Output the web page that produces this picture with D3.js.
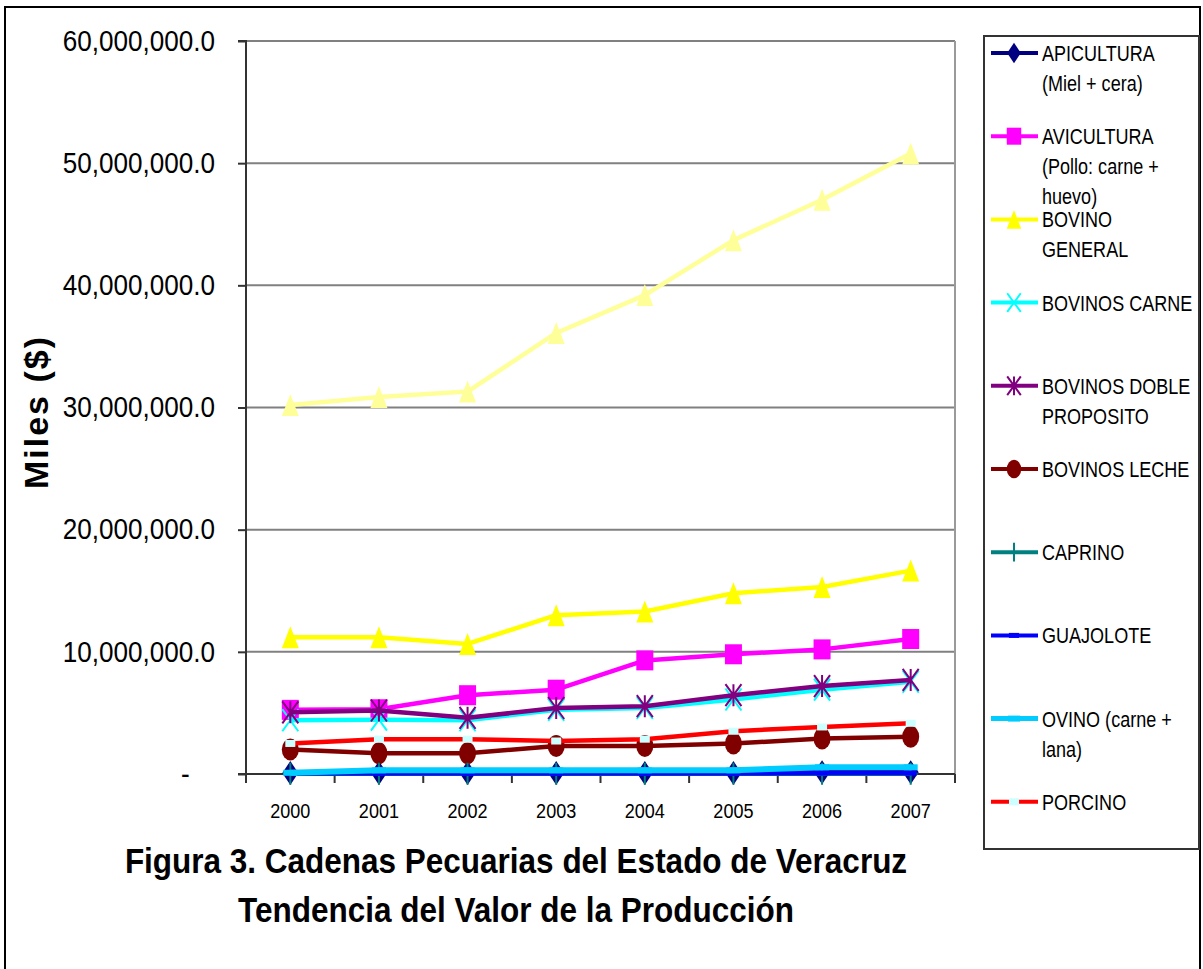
<!DOCTYPE html>
<html><head><meta charset="utf-8">
<script src="https://cdn.jsdelivr.net/npm/d3@7/dist/d3.min.js"></script>
<style>
body{margin:0;background:#fff;}
svg{display:block;}
text{font-family:"Liberation Sans",Arial,sans-serif;}
</style></head>
<body>
<svg id="chart" width="1203" height="969"></svg>
<script>
const years = ["2000","2001","2002","2003","2004","2005","2006","2007"];
const yTicks = [0,10000000,20000000,30000000,40000000,50000000,60000000];

const apicultura   = [80000, 80000, 80000, 80000, 80000, 80000, 150000, 150000];
const avicultura   = [5250000, 5300000, 6450000, 6900000, 9300000, 9800000, 10200000, 11050000];
const bovinoGeneral= [11200000, 11200000, 10650000, 13000000, 13300000, 14800000, 15300000, 16650000];
const bovinosCarne = [4400000, 4450000, 4400000, 5250000, 5400000, 6100000, 6900000, 7550000];
const bovinosDoble = [5050000, 5200000, 4600000, 5400000, 5550000, 6450000, 7200000, 7700000];
const bovinosLeche = [2000000, 1700000, 1700000, 2300000, 2300000, 2500000, 2900000, 3050000];
const caprino      = [30000, 30000, 30000, 30000, 30000, 30000, 30000, 30000];
const guajolote    = [60000, 60000, 60000, 60000, 60000, 60000, 80000, 80000];
const ovino        = [100000, 300000, 300000, 300000, 300000, 300000, 550000, 550000];
const porcino      = [2500000, 2850000, 2850000, 2700000, 2850000, 3500000, 3850000, 4150000];
const total        = [30200000, 30850000, 31300000, 36100000, 39200000, 43700000, 47000000, 50800000];

const seriesNames = ["APICULTURA\n(Miel + cera)","AVICULTURA\n(Pollo: carne +\nhuevo)","BOVINO\nGENERAL",
  "BOVINOS CARNE","BOVINOS DOBLE\nPROPOSITO","BOVINOS LECHE","CAPRINO","GUAJOLOTE","OVINO (carne +\nlana)","PORCINO","TOTAL"];
const seriesValues = [apicultura,avicultura,bovinoGeneral,bovinosCarne,bovinosDoble,bovinosLeche,caprino,guajolote,ovino,porcino,total];
const seriesColors = ["#000080","#FF00FF","#FFFF00","#00FFFF","#800080","#800000","#008080","#0000FF","#00CCFF","#FF0000","#FFFF99"];
const seriesMarkers = ["diamond","square","triangle","x","star","circle","plus","dash","bar","rect","triangle"];
const inLegend = [true,true,true,true,true,true,true,true,true,true,false];

const svg = d3.select("#chart");
const L=246, R=955, T=41, B=774;

// outer border
svg.append("rect").attr("x",5).attr("y",7).attr("width",1195).attr("height",975)
  .attr("fill","#fff").attr("stroke","#000").attr("stroke-width",2);

const x = d3.scaleBand().domain(years).range([L,R]);
const y = d3.scaleLinear().domain([0,60000000]).range([B,T]);

// gridlines
svg.append("g").selectAll("line").data(yTicks.filter(d=>d>0)).join("line")
  .attr("x1",L).attr("x2",R).attr("y1",d=>y(d)).attr("y2",d=>y(d))
  .attr("stroke","#808080").attr("stroke-width",2);
// right border of plot
svg.append("line").attr("x1",R).attr("x2",R).attr("y1",T).attr("y2",B)
  .attr("stroke","#9a9a9a").attr("stroke-width",2);

// y axis
const YS = 0.9;
const yAxis = d3.axisLeft(y).tickValues(yTicks).tickSize(8).tickPadding(23)
  .tickFormat(d=> d===0 ? "-" : d3.format(",.1f")(d));
const gy = svg.append("g").attr("transform",`translate(${L},0)`).call(yAxis);
gy.select(".domain").attr("stroke","#333").attr("stroke-width",2).attr("d",`M-8,${T}H0V${B+9}`);
gy.selectAll(".tick line").attr("stroke","#333").attr("stroke-width",2);
gy.selectAll(".tick text").attr("font-size",29).attr("fill","#000")
  .attr("x",-31/YS).attr("transform",`scale(${YS},1)`);
gy.selectAll(".tick text").filter(d=>d===0).attr("dx",-28);

// x axis
const xAxis = d3.axisBottom(x).tickSize(0).tickPadding(29);
const gx = svg.append("g").attr("transform",`translate(0,${B})`).call(xAxis);
gx.select(".domain").attr("stroke","#333").attr("stroke-width",2).attr("d",`M${L-8},0H${R}`);
gx.selectAll(".tick text").attr("font-size",21).attr("fill","#000").attr("transform","scale(0.86,1)");
// tick marks at band boundaries
svg.append("g").selectAll("line").data(years).join("line")
  .attr("x1",(d,i)=>L+x.step()*(i+1)).attr("x2",(d,i)=>L+x.step()*(i+1))
  .attr("y1",B).attr("y2",B+9).attr("stroke","#333").attr("stroke-width",2);

// marker drawing
function marker(g, type, color, w, h){
  const hw=w/2, hh=h/2;
  switch(type){
    case "diamond": g.append("path").attr("d",`M0,${-hh}L${hw},0L0,${hh}L${-hw},0Z`).attr("fill",color); break;
    case "square": g.append("rect").attr("x",-hw).attr("y",-hh).attr("width",w).attr("height",h).attr("fill",color); break;
    case "triangle": g.append("path").attr("d",`M0,${-hh}L${hw},${hh}L${-hw},${hh}Z`).attr("fill",color); break;
    case "circle": g.append("ellipse").attr("rx",hw).attr("ry",hh).attr("fill",color); break;
    case "x": g.append("path").attr("d",`M${-hw},${-hh}L${hw},${hh}M${hw},${-hh}L${-hw},${hh}`).attr("stroke",color).attr("stroke-width",2); break;
    case "star": g.append("path").attr("d",`M${-hw},${-hh}L${hw},${hh}M${hw},${-hh}L${-hw},${hh}M0,${-hh}L0,${hh}`).attr("stroke",color).attr("stroke-width",2); break;
    case "plus": g.append("path").attr("d",`M0,${-hh}L0,${hh}M${-hw},0L${hw},0`).attr("stroke",color).attr("stroke-width",2); break;
    case "dash": g.append("rect").attr("x",-hw).attr("y",-2.5).attr("width",w).attr("height",5).attr("fill",color); break;
    case "bar": g.append("rect").attr("x",-hw).attr("y",-3).attr("width",w).attr("height",6).attr("fill",color); break;
    case "rect": g.append("rect").attr("x",-5).attr("y",-3.5).attr("width",10).attr("height",7).attr("fill","#CCFFFF"); break;
  }
}
const markerSize = {diamond:[16,24],square:[17,20],triangle:[17,22],circle:[17,22],x:[16,22],star:[16,22],plus:[14,22],dash:[12,5],bar:[14,6],rect:[10,7]};

const line = d3.line().x((d,i)=>x(years[i])+x.bandwidth()/2).y(d=>y(d));
const plot = svg.append("g");
seriesValues.forEach((vals,si)=>{
  const g = plot.append("g");
  g.append("path").attr("d",line(vals)).attr("fill","none")
    .attr("stroke",seriesColors[si]).attr("stroke-width", si===8?6:4.5).attr("stroke-linejoin","round");
  vals.forEach((v,i)=>{
    const mg = g.append("g").attr("transform",`translate(${x(years[i])+x.bandwidth()/2},${y(v)})`);
    const [w,h] = markerSize[seriesMarkers[si]];
    marker(mg, seriesMarkers[si], seriesColors[si], w, h);
  });
});

// legend
svg.append("rect").attr("x",984).attr("y",36).attr("width",215).attr("height",813)
  .attr("fill","#fff").attr("stroke","#333").attr("stroke-width",2);
const leg = svg.append("g");
let li=0;
seriesNames.forEach((name,si)=>{
  if(!inLegend[si]) return;
  const cy = 53 + 83.2*li; li++;
  const g = leg.append("g");
  g.append("line").attr("x1",991).attr("x2",1038).attr("y1",cy).attr("y2",cy)
    .attr("stroke",seriesColors[si]).attr("stroke-width", si===8?5:4);
  const mg = g.append("g").attr("transform",`translate(1014,${cy})`);
  const [w,h] = markerSize[seriesMarkers[si]];
  marker(mg, seriesMarkers[si], seriesColors[si], w*0.85, h*0.85);
  const t = g.append("g").attr("transform","translate(1042,0) scale(0.82,1)")
    .append("text").attr("x",0).attr("y",cy).attr("font-size",22).attr("fill","#000");
  name.split("\n").forEach((ln,k)=>{
    t.append("tspan").attr("x",0).attr("y",cy + k*30).attr("dy","0.36em").text(ln);
  });
});

// y label
svg.append("text").attr("transform","translate(48,412) rotate(-90)").attr("text-anchor","middle")
  .attr("font-size",34).attr("font-weight","bold").attr("letter-spacing",2)
  .text("Miles ($)");

// title
const tg = svg.append("g").attr("transform","translate(516,0) scale(0.9,1)");
tg.append("text").attr("x",0).attr("y",873).attr("text-anchor","middle")
  .attr("font-size",35).attr("font-weight","bold").text("Figura 3. Cadenas Pecuarias del Estado de Veracruz");
tg.append("text").attr("x",0).attr("y",922).attr("text-anchor","middle")
  .attr("font-size",35).attr("font-weight","bold").text("Tendencia del Valor de la Producción");
</script>
</body></html>
